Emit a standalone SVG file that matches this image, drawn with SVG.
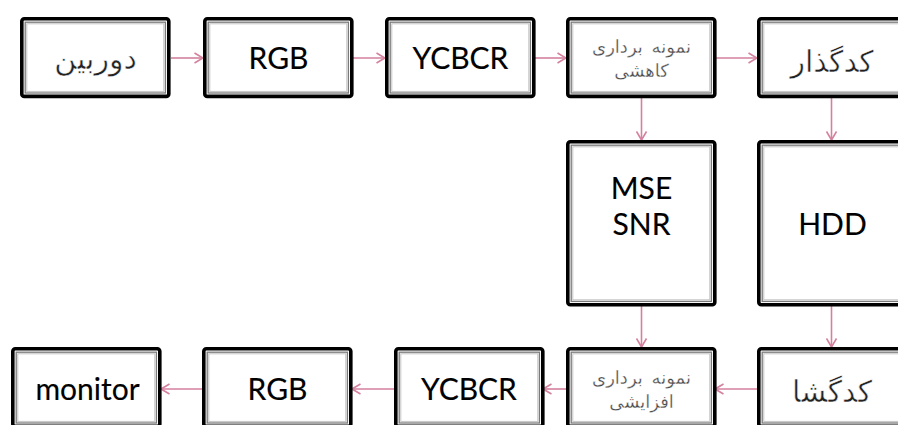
<svg xmlns="http://www.w3.org/2000/svg" width="898" height="425" viewBox="0 0 898 425">
  <style>
    .outer { fill: #ffffff; stroke: #000000; stroke-width: 3.6; }
    .in1 { fill: none; stroke: #7a7a7a; stroke-width: 1.3; }
    .in2 { fill: none; stroke: #c4c4c4; stroke-width: 1; }
    .lat { font-family: Lato, "Open Sans", sans-serif; font-size: 30px; fill: #000000; stroke: #000000; stroke-width: 0.15; text-anchor: middle; }
    .fa { font-family: "DejaVu Sans", sans-serif; font-size: 30px; fill: #222222; stroke: #ffffff; stroke-width: 0.5; text-anchor: middle; }
    .fa-sm { font-family: "DejaVu Sans", sans-serif; font-size: 18px; fill: #4a4a4a; stroke: #ffffff; stroke-width: 0.3; text-anchor: middle; word-spacing: 3px; }
    .wire { stroke: #d4809f; stroke-width: 1.6; fill: none; }
  </style>
  <defs>
    <!-- framed block: thick black border with grey inner rules -->
    <g id="frame">
      <rect class="outer" x="1.8" y="1.8" width="147" height="77.6" rx="2.5"/>
      <rect class="in1" x="5.2" y="5.2" width="140.2" height="70.8"/>
      <rect class="in2" x="6.8" y="6.8" width="137" height="67.6"/>
    </g>
    <g id="frame-tall">
      <rect class="outer" x="1.8" y="1.8" width="147" height="163" rx="2.5"/>
      <rect class="in1" x="5.2" y="5.2" width="140.2" height="156.2"/>
      <rect class="in2" x="6.8" y="6.8" width="137" height="153"/>
    </g>
    <marker id="head" viewBox="0 0 10 12" refX="9.5" refY="6" markerWidth="10" markerHeight="12" markerUnits="userSpaceOnUse" orient="auto">
      <path d="M1,1 L9.5,6 L1,11" fill="none" stroke="#d4809f" stroke-width="1.6"/>
    </marker>
  </defs>

  <!-- connectors -->
  <g id="connectors">
    <line class="wire" x1="171" y1="58" x2="203" y2="58" marker-end="url(#head)"/>
    <line class="wire" x1="352" y1="58" x2="385" y2="58" marker-end="url(#head)"/>
    <line class="wire" x1="534" y1="58" x2="566" y2="58" marker-end="url(#head)"/>
    <line class="wire" x1="715" y1="58" x2="757" y2="58" marker-end="url(#head)"/>
    <line class="wire" x1="641.5" y1="98" x2="641.5" y2="140" marker-end="url(#head)"/>
    <line class="wire" x1="831.5" y1="98" x2="831.5" y2="140" marker-end="url(#head)"/>
    <line class="wire" x1="641.5" y1="306" x2="641.5" y2="347" marker-end="url(#head)"/>
    <line class="wire" x1="831.5" y1="306" x2="831.5" y2="347" marker-end="url(#head)"/>
    <line class="wire" x1="757" y1="389" x2="715" y2="389" marker-end="url(#head)"/>
    <line class="wire" x1="566" y1="389" x2="543" y2="389" marker-end="url(#head)"/>
    <line class="wire" x1="394" y1="389" x2="352" y2="389" marker-end="url(#head)"/>
    <line class="wire" x1="202" y1="389" x2="161" y2="389" marker-end="url(#head)"/>
  </g>

  <!-- top row -->
  <g id="camera" transform="translate(20,17)">
    <use href="#frame"/>
    <text class="fa" x="75.5" y="52">دوربین</text>
  </g>
  <g id="rgb-in" transform="translate(203,17)">
    <use href="#frame"/>
    <text class="lat" x="75.5" y="52">RGB</text>
  </g>
  <g id="ycbcr-in" transform="translate(385,17)">
    <use href="#frame"/>
    <text class="lat" x="75.5" y="52">YCBCR</text>
  </g>
  <g id="downsample" transform="translate(566,17)">
    <use href="#frame"/>
    <text class="fa-sm" x="75.5" y="36">نمونه برداری</text>
    <text class="fa-sm" x="75.5" y="60">کاهشی</text>
  </g>
  <g id="encoder" transform="translate(757,17)">
    <use href="#frame"/>
    <text class="fa" x="75" y="55">کدگذار</text>
  </g>

  <!-- middle row -->
  <g id="metrics" transform="translate(566,140)">
    <use href="#frame-tall"/>
    <text class="lat" x="75.5" y="59">MSE</text>
    <text class="lat" x="75.5" y="95">SNR</text>
  </g>
  <g id="hdd" transform="translate(757,140)">
    <use href="#frame-tall"/>
    <text class="lat" x="75.5" y="95">HDD</text>
  </g>

  <!-- bottom row -->
  <g id="monitor" transform="translate(11,347)">
    <use href="#frame"/>
    <text class="lat" x="76.5" y="53">monitor</text>
  </g>
  <g id="rgb-out" transform="translate(202,347)">
    <use href="#frame"/>
    <text class="lat" x="75.5" y="53">RGB</text>
  </g>
  <g id="ycbcr-out" transform="translate(394,347)">
    <use href="#frame"/>
    <text class="lat" x="75" y="53">YCBCR</text>
  </g>
  <g id="upsample" transform="translate(566,347)">
    <use href="#frame"/>
    <text class="fa-sm" x="75.5" y="37">نمونه برداری</text>
    <text class="fa-sm" x="75.5" y="61">افزایشی</text>
  </g>
  <g id="decoder" transform="translate(757,347)">
    <use href="#frame"/>
    <text class="fa" x="75" y="55">کدگشا</text>
  </g>
</svg>
